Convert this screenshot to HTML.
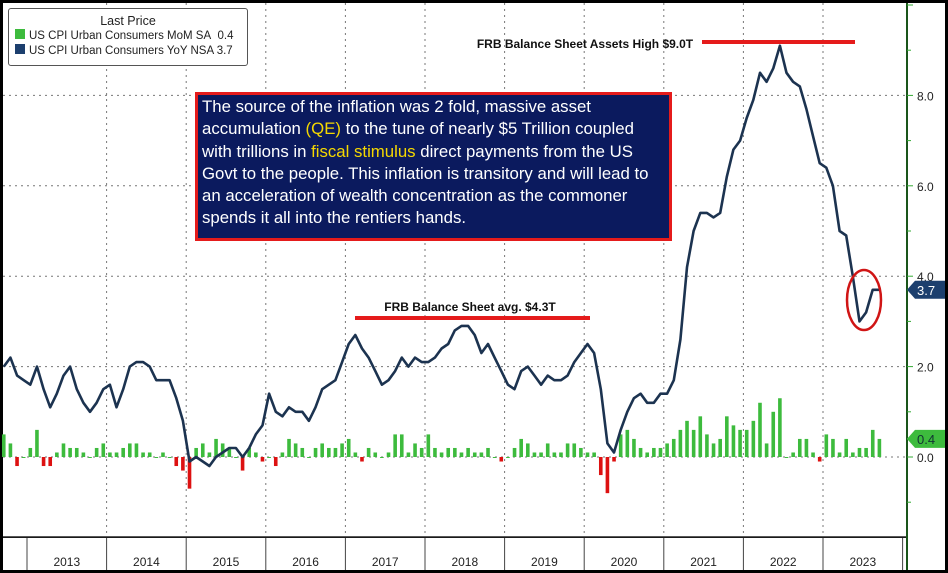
<!DOCTYPE html>
<html><head><meta charset="utf-8"><style>
body{margin:0;background:#000;font-family:"Liberation Sans",sans-serif;}
#wrap{position:relative;width:948px;height:573px;background:#000;overflow:hidden;font-family:"Liberation Sans",sans-serif;}
svg{position:absolute;left:0;top:0}
</style></head><body>
<div id="wrap">
<svg id="chart" width="948" height="573"></svg>
</div>
<script>
const years=["2013","2014","2015","2016","2017","2018","2019","2020","2021","2022","2023"];
const yTicks=[0,2,4,6,8];
const yoy=[2.0,2.2,1.8,1.7,
1.6,2.0,1.5,1.1,1.4,1.8,2.0,1.5,1.2,1.0,1.2,1.5,
1.6,1.1,1.5,2.0,2.1,2.1,2.0,1.7,1.7,1.7,1.3,0.8,
-0.1,0.0,-0.1,-0.2,0.0,0.1,0.2,0.2,0.0,0.2,0.5,0.7,
1.4,1.0,0.9,1.1,1.0,1.0,0.8,1.1,1.5,1.6,1.7,2.1,
2.5,2.7,2.4,2.2,1.9,1.6,1.7,1.9,2.2,2.0,2.2,2.1,
2.1,2.2,2.4,2.5,2.8,2.9,2.9,2.7,2.3,2.5,2.2,1.9,
1.6,1.5,1.9,2.0,1.8,1.6,1.8,1.7,1.7,1.8,2.1,2.3,
2.5,2.3,1.5,0.3,0.1,0.6,1.0,1.3,1.4,1.2,1.2,1.4,
1.4,1.7,2.6,4.2,5.0,5.4,5.4,5.3,5.4,6.2,6.8,7.0,
7.5,7.9,8.5,8.3,8.6,9.1,8.5,8.3,8.2,7.7,7.1,6.5,
6.4,6.0,5.0,4.9,4.0,3.0,3.2,3.7,3.7];
const mom=[0.5,0.3,-0.2,0.0,
0.2,0.6,-0.2,-0.2,0.1,0.3,0.2,0.2,0.1,0.0,0.2,0.3,
0.1,0.1,0.2,0.3,0.3,0.1,0.1,0.0,0.1,0.0,-0.2,-0.3,
-0.7,0.2,0.3,0.1,0.4,0.3,0.2,0.0,-0.3,0.2,0.1,-0.1,
0.0,-0.2,0.1,0.4,0.3,0.2,0.0,0.2,0.3,0.2,0.2,0.3,
0.4,0.1,-0.1,0.2,0.1,0.0,0.1,0.5,0.5,0.1,0.3,0.2,
0.5,0.2,0.1,0.2,0.2,0.1,0.2,0.1,0.1,0.2,0.0,-0.1,
0.0,0.2,0.4,0.3,0.1,0.1,0.3,0.1,0.1,0.3,0.3,0.2,
0.1,0.1,-0.4,-0.8,-0.1,0.5,0.6,0.4,0.2,0.1,0.2,0.2,
0.3,0.4,0.6,0.8,0.6,0.9,0.5,0.3,0.4,0.9,0.7,0.6,
0.6,0.8,1.2,0.3,1.0,1.3,0.0,0.1,0.4,0.4,0.1,-0.1,
0.5,0.4,0.1,0.4,0.1,0.2,0.2,0.6,0.4];
const startOffset=-4;
const NS="http://www.w3.org/2000/svg";
const svg=document.getElementById('chart');
const X0=27,YW=79.6,MW=YW/12;
function xm(i){return X0+(i+startOffset+0.5)*MW;}
function yv(v){return 457-v*45.2;}
function mk(t,a,p){const e=document.createElementNS(NS,t);for(const k in a)e.setAttribute(k,a[k]);(p||svg).appendChild(e);return e;}
let bg=mk('rect',{x:3,y:3,width:903,height:534,fill:'#fff'});

let xb=mk('rect',{x:3,y:538,width:903,height:32,fill:'#fff'});

let rb=mk('rect',{x:908,y:3,width:37,height:567,fill:'#fff'});

yTicks.forEach(v=>{let g=mk('line',{x1:3,x2:905,y1:yv(v),y2:yv(v),stroke:'#777','stroke-dasharray':'2,4','stroke-width':1});
});
years.forEach((y,i)=>{const x=X0+i*YW;
if(i>0){let g=mk('line',{x1:x,x2:x,y1:3,y2:537,stroke:'#777','stroke-dasharray':'2,4'});
}
let s=mk('line',{x1:x,x2:x,y1:538,y2:570,stroke:'#444'});

let t=mk('text',{x:x+YW/2,y:566,'font-size':12,'text-anchor':'middle',fill:'#222'});t.textContent=y;
});
mk('line',{x1:X0+11*YW,x2:X0+11*YW,y1:538,y2:570,stroke:'#444'});
mk('line',{x1:3,x2:906,y1:537,y2:537,stroke:'#222','stroke-width':1.5});
let ax=mk('line',{x1:907,x2:907,y1:3,y2:570,stroke:'#3a3','stroke-width':1});

for(let v=-3;v<=10;v++){const y=yv(v);if(y<5||y>535)continue;
mk('line',{x1:907,x2:v%2==0?913:911,y1:y,y2:y,stroke:'#3a3'});}
yTicks.forEach(v=>{let t=mk('text',{x:917,y:yv(v)+5,'font-size':12,fill:'#222'});t.textContent=v.toFixed(1);
});
mom.forEach((v,i)=>{const x=xm(i);const y0=yv(0),y1=yv(v);
let r=mk('rect',{x:x-1.8,y:Math.min(y0,y1),width:3.6,height:Math.max(Math.abs(y1-y0),1),fill:v>=0?'#3dbb3d':'#dd1111'});
});
let d=yoy.map((v,i)=>(i?'L':'M')+xm(i).toFixed(1)+','+yv(v).toFixed(1)).join(' ');
let ln=mk('path',{d:d,fill:'none',stroke:'#1c3350','stroke-width':2.6,'stroke-linejoin':'round'});

function tag(v,txt,col,name){const y=yv(v);
let p=mk('path',{d:`M907,${y} L915,${y-9} L945,${y-9} L945,${y+9} L915,${y+9} Z`,fill:col});

let t=mk('text',{x:917,y:y+5,'font-size':13,fill:col=='#1c3f6e'?'#fff':'#133'});t.textContent=txt;}
tag(yoy[yoy.length-1],yoy[yoy.length-1].toFixed(1),'#1c3f6e','yoy-last-value');
tag(mom[mom.length-1],mom[mom.length-1].toFixed(1),'#3dbb3d','mom-last-value');
</script>
<svg width="948" height="573" style="pointer-events:none">
<line x1="702" y1="42" x2="855" y2="42" stroke="#e51b1b" stroke-width="4"/>
<text x="585" y="48" font-size="12" font-weight="bold" fill="#111" text-anchor="middle" font-family="Liberation Sans, sans-serif">FRB Balance Sheet Assets High $9.0T</text>
<line x1="355" y1="318" x2="590" y2="318" stroke="#e51b1b" stroke-width="4"/>
<text x="470" y="311" font-size="12" font-weight="bold" fill="#111" text-anchor="middle" font-family="Liberation Sans, sans-serif">FRB Balance Sheet avg. $4.3T</text>
<ellipse cx="864" cy="300" rx="17" ry="30" fill="none" stroke="#d01515" stroke-width="2.5"/>
</svg>
<div style="position:absolute;left:8px;top:8px;width:238px;height:56px;background:#fff;border:1px solid #555;border-radius:3px;font-size:11.5px;line-height:15px;color:#222;">
<div style="text-align:center;margin-top:5px;font-size:12.5px">Last Price</div>
<div style="margin-left:6px;white-space:nowrap"><span style="display:inline-block;width:10px;height:10px;background:#3dbb3d;margin-right:4px"></span>US CPI Urban Consumers MoM SA&nbsp; 0.4</div>
<div style="margin-left:6px;white-space:nowrap"><span style="display:inline-block;width:10px;height:10px;background:#1c3f6e;margin-right:4px"></span>US CPI Urban Consumers YoY NSA 3.7</div>
</div>
<div style="position:absolute;left:195px;top:92px;width:467px;height:142px;background:#0b1a5e;border:3px solid #e51b1b;color:#fff;font-size:16.8px;line-height:22.3px;padding:1px 0 0 4px;white-space:nowrap;overflow:hidden;box-sizing:content-box;">The source of the inflation was 2 fold, massive asset<br>accumulation <span style="color:#f5d800">(QE)</span> to the tune of nearly $5 Trillion coupled<br>with trillions in <span style="color:#f5d800">fiscal stimulus</span> direct payments from the US<br>Govt to the people. This inflation is transitory and will lead to<br>an acceleration of wealth concentration as the commoner<br>spends it all into the rentiers hands.</div>
</body></html>
